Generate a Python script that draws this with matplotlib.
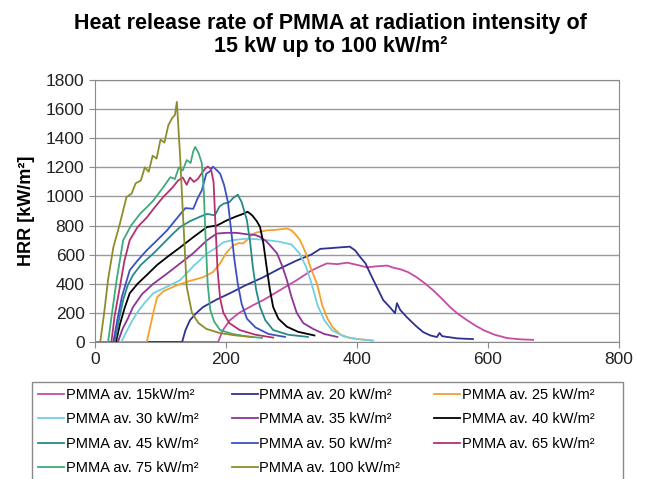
import matplotlib.pyplot as plt
from matplotlib.patches import Rectangle

plt.rcParams['font.family'] = ['Liberation Sans', 'DejaVu Sans']

# time [s] and heat release rate [kW/m²]
t15 = [0, 188, 195, 206, 220, 240, 257, 280, 308, 330, 344, 354, 370, 385, 400, 415, 430, 446, 456,
       466, 478, 491, 503, 516, 529, 542, 555, 568, 580, 593, 610, 629, 650, 669]
q15 = [0, 0, 80, 150, 200, 250, 288, 350, 425, 490, 520, 540, 535, 545, 530, 513, 520, 525, 510,
       500, 480, 445, 405, 356, 300, 240, 190, 150, 115, 82, 50, 27, 18, 15]

t20 = [0, 133, 138, 145, 155, 165, 185, 206, 230, 257, 280, 308, 330, 344, 360, 374, 389, 397, 405,
       413, 420, 430, 440, 450, 458, 461, 466, 476, 490, 501, 512, 522, 526, 530, 553, 577]
q20 = [0, 0, 80, 150, 200, 240, 290, 335, 390, 445, 500, 560, 600, 640, 645, 650, 655, 630, 583,
       540, 472, 380, 288, 240, 198, 267, 220, 171, 110, 68, 45, 34, 62, 40, 25, 20]

t25 = [0, 79, 84, 90, 95, 105, 125, 145, 165, 180, 191, 200, 211, 220, 226, 232, 240, 247, 255, 262,
       275, 293, 300, 306, 313, 322, 330, 339, 347, 355, 363, 375, 389, 423]
q25 = [0, 0, 100, 220, 310, 350, 390, 420, 445, 480, 540, 610, 665, 680, 677, 700, 740, 753, 760, 767,
       770, 780, 767, 740, 700, 610, 500, 400, 250, 160, 100, 50, 27, 10]

t30 = [0, 40, 48, 56, 64, 76, 89, 110, 130, 150, 171, 186, 196, 210, 232, 250, 262, 280, 300, 312,
       322, 330, 340, 350, 362, 380, 400, 425]
q30 = [0, 0, 70, 140, 200, 270, 335, 380, 425, 520, 608, 650, 685, 700, 710, 705, 700, 690, 670, 610,
       520, 410, 250, 150, 80, 38, 20, 10]

t35 = [0, 35, 42, 50, 58, 72, 89, 110, 130, 150, 171, 186, 200, 216, 232, 245, 252, 262, 270, 278,
       286, 293, 300, 308, 318, 333, 350, 370]
q35 = [0, 0, 90, 160, 240, 330, 400, 470, 540, 610, 699, 745, 750, 750, 740, 735, 722, 690, 650, 608,
       520, 425, 310, 200, 130, 90, 55, 35]

t40 = [0, 32, 38, 45, 53, 65, 79, 95, 112, 130, 150, 171, 186, 201, 214, 226, 233, 240, 247, 252,
       257, 262, 267, 272, 280, 293, 310, 335]
q40 = [0, 0, 120, 230, 335, 400, 460, 530, 590, 650, 720, 790, 800, 835, 860, 880, 895, 870, 830, 790,
       680, 515, 360, 240, 160, 105, 70, 45]

t45 = [0, 30, 36, 43, 50, 58, 70, 89, 105, 118, 130, 145, 160, 171, 183, 190, 196, 205, 211, 216,
       218, 224, 232, 237, 241, 246, 252, 260, 272, 295, 325]
q45 = [0, 0, 140, 290, 390, 460, 530, 608, 680, 740, 790, 830, 860, 880, 870, 930, 950, 960, 990, 1005,
       1012, 960, 835, 680, 515, 360, 240, 150, 82, 50, 35]

t50 = [0, 28, 34, 41, 53, 65, 79, 95, 110, 125, 138, 150, 157, 163, 170, 175, 180, 186, 191, 197,
       203, 208, 213, 218, 224, 232, 245, 265, 290]
q50 = [0, 0, 150, 310, 493, 560, 630, 700, 767, 850, 920, 915, 990, 1041, 1157, 1170, 1205, 1180, 1157, 1080,
       960, 760, 560, 400, 260, 160, 100, 55, 35]

t65 = [0, 25, 30, 38, 45, 53, 65, 79, 92, 104, 118, 127, 134, 140, 145, 151, 157, 163, 168, 172,
       177, 181, 184, 187, 191, 196, 205, 221, 245, 272]
q65 = [0, 0, 180, 379, 560, 699, 790, 855, 930, 995, 1060, 1110, 1130, 1080, 1130, 1100, 1120, 1160, 1190, 1205,
       1190, 1100, 800, 500, 300, 200, 130, 82, 50, 30]

t75 = [0, 20, 26, 33, 43, 55, 69, 80, 89, 97, 104, 110, 115, 122, 128, 134, 140, 146, 150, 153,
       158, 163, 166, 169, 172, 176, 182, 191, 210, 232, 255]
q75 = [0, 0, 200, 425, 699, 800, 882, 930, 972, 1020, 1062, 1100, 1132, 1120, 1200, 1178, 1250, 1230, 1310, 1340,
       1300, 1230, 1040, 700, 400, 220, 140, 82, 55, 38, 28]

t100 = [0, 8, 14, 20, 28, 38, 48, 56, 62, 70, 76, 82, 88, 94, 100, 106, 112, 118, 122, 125,
        130, 134, 140, 148, 158, 170, 190, 215, 240]
q100 = [0, 0, 200, 430, 650, 813, 995, 1020, 1090, 1110, 1200, 1170, 1280, 1260, 1390, 1370, 1490, 1540, 1560, 1650,
        1270, 900, 380, 200, 130, 90, 62, 45, 35]

labels = ['PMMA av. 15kW/m²', 'PMMA av. 20 kW/m²', 'PMMA av. 25 kW/m²', 'PMMA av. 30 kW/m²',
          'PMMA av. 35 kW/m²', 'PMMA av. 40 kW/m²', 'PMMA av. 45 kW/m²', 'PMMA av. 50 kW/m²',
          'PMMA av. 65 kW/m²', 'PMMA av. 75 kW/m²', 'PMMA av. 100 kW/m²']
colors = ['#c64aa8', '#2e3190', '#f7a02a', '#72cfe2', '#8e3494', '#000000',
          '#268a8a', '#3c50c6', '#b5306e', '#3dab7a', '#8d8d2c']

series = [(t15, q15), (t20, q20), (t25, q25), (t30, q30), (t35, q35), (t40, q40),
          (t45, q45), (t50, q50), (t65, q65), (t75, q75), (t100, q100)]

fig = plt.figure(figsize=(6.45, 4.79), dpi=100)
ax = fig.add_axes([95 / 645, 1 - 342 / 479, 524 / 645, 262 / 479])

handles = []
for (t, q), lab, c in zip(series, labels, colors):
    h, = ax.plot(t, q, color=c, lw=1.3, label=lab)
    handles.append(h)

ax.set_xlim(0, 800)
ax.set_ylim(0, 1800)
ax.set_xticks(range(0, 801, 200))
ax.set_yticks(range(0, 1801, 200))
ax.yaxis.grid(True, color='#9a9a9a', lw=1.0)
ax.set_axisbelow(True)
for s in ax.spines.values():
    s.set_color('#8a8a8a')
ax.tick_params(colors='#8a8a8a', labelcolor='#222222', labelsize=12.5, length=4)
ax.set_ylabel('HRR [kW/m²]', fontsize=13, fontweight='bold', labelpad=8)

fig.text(0.512, 1 - 13 / 479,
         'Heat release rate of PMMA at radiation intensity of\n15 kW up to 100 kW/m²',
         fontsize=15.5, fontweight='bold', ha='center', va='top', linespacing=1.12)

# legend filled row by row, matplotlib fills by column
order = [0, 3, 6, 9, 1, 4, 7, 10, 2, 5, 8]
leg = fig.legend([handles[i] for i in order], [labels[i] for i in order],
                 loc='upper left', bbox_to_anchor=(32 / 645, 0.0, 568 / 645, 1 - 382 / 479),
                 mode='expand', ncol=3, fontsize=10.5, frameon=False,
                 handlelength=1.8, handletextpad=0.1, labelspacing=0.72, borderaxespad=0)
# legend box, wider than the entries on the right as in the original
fig.patches.append(Rectangle((32 / 645, -0.02), 591 / 645, 1 - 382 / 479 + 0.02,
                             transform=fig.transFigure, fill=False,
                             edgecolor='#8a8a8a', lw=1.0))

fig.savefig('out.png', dpi=100)
